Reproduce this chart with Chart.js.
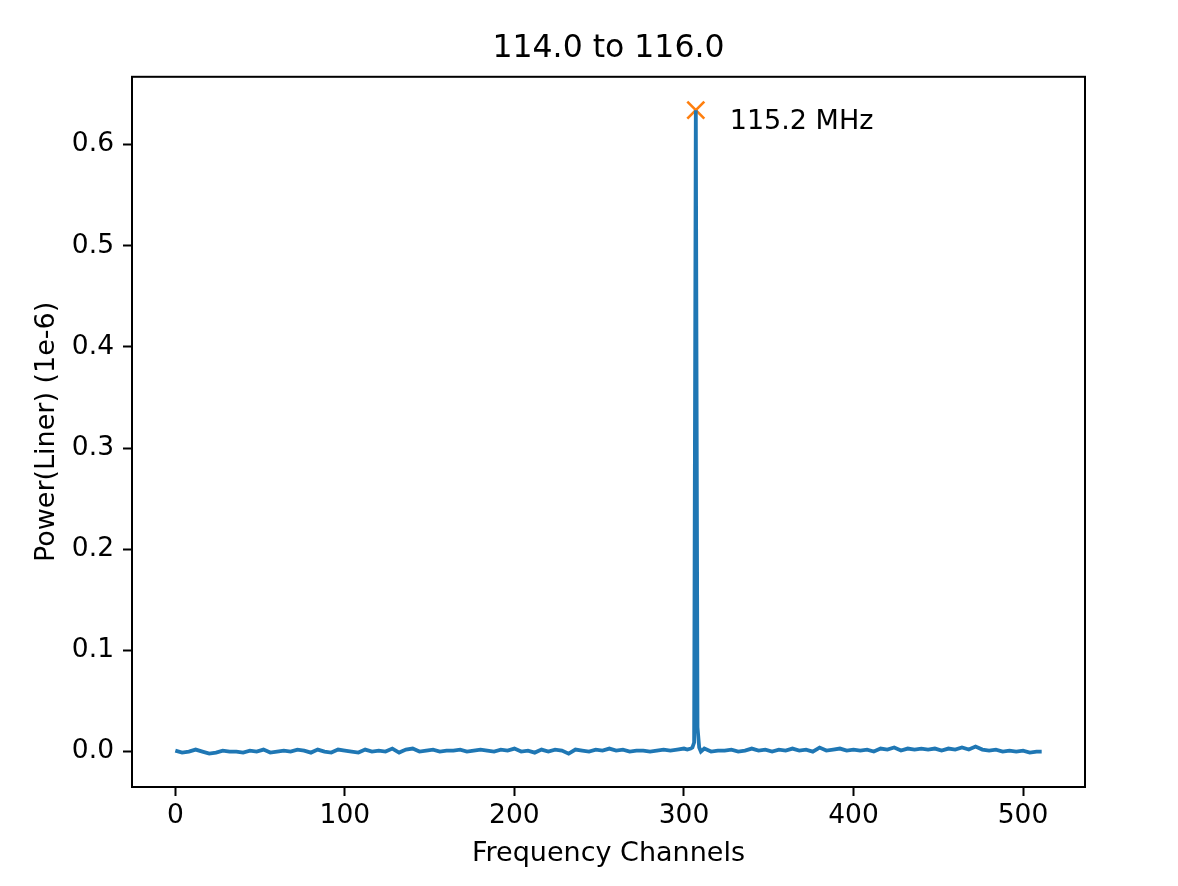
<!DOCTYPE html>
<html>
<head>
<meta charset="utf-8">
<title>114.0 to 116.0</title>
<script src="https://cdn.jsdelivr.net/npm/chart.js@4.4.1/dist/chart.umd.min.js"></script>
<style>
html, body { margin: 0; padding: 0; background: #fff; }
canvas { display: block; }
</style>
</head>
<body>
<canvas id="spectrum" width="1178" height="886"></canvas>
<script>
// channels (denser around the spike)
var channels = [
  0, 4, 8, 12, 16, 20, 24, 28, 32, 36, 40, 44, 48, 52, 56, 60, 64, 68, 72, 76,
  80, 84, 88, 92, 96, 100, 104, 108, 112, 116, 120, 124, 128, 132, 136, 140, 144, 148, 152, 156,
  160, 164, 168, 172, 176, 180, 184, 188, 192, 196, 200, 204, 208, 212, 216, 220, 224, 228, 232, 236,
  240, 244, 248, 252, 256, 260, 264, 268, 272, 276, 280, 284, 288, 292, 296, 300,
  302, 304, 305, 306, 307, 308, 309, 310, 312,
  316, 320, 324, 328, 332, 336, 340, 344, 348, 352, 356, 360, 364, 368, 372, 376, 380, 384, 388, 392,
  396, 400, 404, 408, 412, 416, 420, 424, 428, 432, 436, 440, 444, 448, 452, 456, 460, 464, 468, 472,
  476, 480, 484, 488, 492, 496, 500, 504, 508, 511
];
var power = [
  0.001, -0.001, 0.000, 0.002, 0.000, -0.002, -0.001, 0.001, 0.000, 0.000, -0.001, 0.001, 0.000, 0.002, -0.001, 0.000, 0.001, 0.000, 0.002, 0.001,
  -0.001, 0.002, 0.000, -0.001, 0.002, 0.001, 0.000, -0.001, 0.002, 0.000, 0.001, 0.000, 0.003, -0.001, 0.002, 0.003, 0.000, 0.001, 0.002, 0.000,
  0.001, 0.001, 0.002, 0.000, 0.001, 0.002, 0.001, 0.000, 0.002, 0.001, 0.003, 0.000, 0.001, -0.001, 0.002, 0.000, 0.002, 0.001, -0.002, 0.002,
  0.001, 0.000, 0.002, 0.001, 0.003, 0.001, 0.002, 0.000, 0.001, 0.001, 0.000, 0.001, 0.002, 0.001, 0.002, 0.003,
  0.002, 0.003, 0.004, 0.009, 0.634, 0.024, 0.004, 0.000, 0.003,
  0.000, 0.001, 0.001, 0.002, 0.000, 0.001, 0.003, 0.001, 0.002, 0.000, 0.002, 0.001, 0.003, 0.001, 0.002, 0.000, 0.004, 0.001, 0.002, 0.003,
  0.001, 0.002, 0.001, 0.002, 0.000, 0.003, 0.002, 0.004, 0.001, 0.003, 0.002, 0.003, 0.002, 0.003, 0.001, 0.003, 0.002, 0.004, 0.002, 0.005,
  0.002, 0.001, 0.002, 0.000, 0.001, 0.000, 0.001, -0.001, 0.000, 0.000
];

// marked peak
var peakChannel = [307];
var peakPower = [0.634];
var peakLabel = "115.2 MHz";

var xTicks = [0, 100, 200, 300, 400, 500];
var yTicks = [0.0, 0.1, 0.2, 0.3, 0.4, 0.5, 0.6];

var font = "'DejaVu Sans', sans-serif";

var spectrumPoints = channels.map(function (c, i) { return { x: c, y: power[i] }; });
var peakPoints = peakChannel.map(function (c, i) { return { x: c, y: peakPower[i] }; });

// matplotlib style closed frame round the axes
var framePlugin = {
  id: "frame",
  afterDraw: function (chart) {
    var a = chart.chartArea;
    var ctx = chart.ctx;
    ctx.save();
    ctx.strokeStyle = "#000";
    ctx.lineWidth = 2;
    ctx.strokeRect(a.left, a.top, a.right - a.left, a.bottom - a.top);
    ctx.restore();
  }
};

// text next to the peak marker
var peakTextPlugin = {
  id: "peakText",
  afterDatasetsDraw: function (chart, args, opts) {
    var xs = chart.scales.x, ys = chart.scales.y;
    var ctx = chart.ctx;
    ctx.save();
    ctx.fillStyle = "#000";
    ctx.font = "27px " + font;
    ctx.textAlign = "left";
    ctx.textBaseline = "alphabetic";
    ctx.fillText(opts.text, xs.getPixelForValue(opts.x), ys.getPixelForValue(opts.y));
    ctx.restore();
  }
};

var canvasElement = document.getElementById("spectrum");
var config = {
  type: "line",
  data: {
    datasets: [{
      label: "power",
      data: spectrumPoints,
      borderColor: "#1f77b4",
      borderWidth: 3.8,
      pointRadius: 0,
      fill: false,
      tension: 0
    }, {
      label: "peak",
      data: peakPoints,
      showLine: false,
      pointStyle: "crossRot",
      pointRadius: 12,
      pointBorderWidth: 2.6,
      pointBorderColor: "#ff7f0e",
      pointBackgroundColor: "#ff7f0e"
    }]
  },
  options: {
    responsive: false,
    devicePixelRatio: 1,
    animation: false,
    layout: { padding: { left: 0, right: 93, top: 0, bottom: 0 } },
    plugins: {
      legend: { display: false },
      tooltip: { enabled: false },
      title: {
        display: true,
        fullSize: false,
        text: "114.0 to 116.0",
        color: "#000",
        font: { family: font, size: 31.5, weight: "normal" },
        padding: { top: 30, bottom: 9 }
      },
      peakText: { text: peakLabel, x: 327, y: 0.615 }
    },
    scales: {
      x: {
        type: "linear",
        min: -25.55,
        max: 536.55,
        afterBuildTicks: function (s) { s.ticks = xTicks.map(function (v) { return { value: v }; }); },
        afterFit: function (s) { s.height = 99; },
        grid: { display: true, drawOnChartArea: false, drawTicks: true, tickLength: 9, tickColor: "#000", tickWidth: 2 },
        border: { display: true, color: "#000", width: 2 },
        ticks: {
          color: "#000",
          font: { family: font, size: 26.5 },
          padding: 4,
          maxRotation: 0,
          callback: function (v) { return String(v); }
        },
        title: {
          display: true,
          text: "Frequency Channels",
          color: "#000",
          font: { family: font, size: 27 },
          padding: { top: 0, bottom: 16 }
        }
      },
      y: {
        type: "linear",
        min: -0.035,
        max: 0.667,
        afterBuildTicks: function (s) { s.ticks = yTicks.map(function (v) { return { value: v }; }); },
        afterFit: function (s) { s.width = 132; },
        grid: { display: true, drawOnChartArea: false, drawTicks: true, tickLength: 9, tickColor: "#000", tickWidth: 2 },
        border: { display: true, color: "#000", width: 2 },
        ticks: {
          color: "#000",
          font: { family: font, size: 26.5 },
          padding: 9,
          callback: function (v) { return v.toFixed(1); }
        },
        title: {
          display: true,
          text: "Power(Liner) (1e-6)",
          color: "#000",
          font: { family: font, size: 27 },
          padding: { top: 31, bottom: 0 }
        }
      }
    }
  },
  plugins: [framePlugin, peakTextPlugin]
};

var spectrumChart = new Chart(canvasElement, config);
</script>
</body>
</html>
